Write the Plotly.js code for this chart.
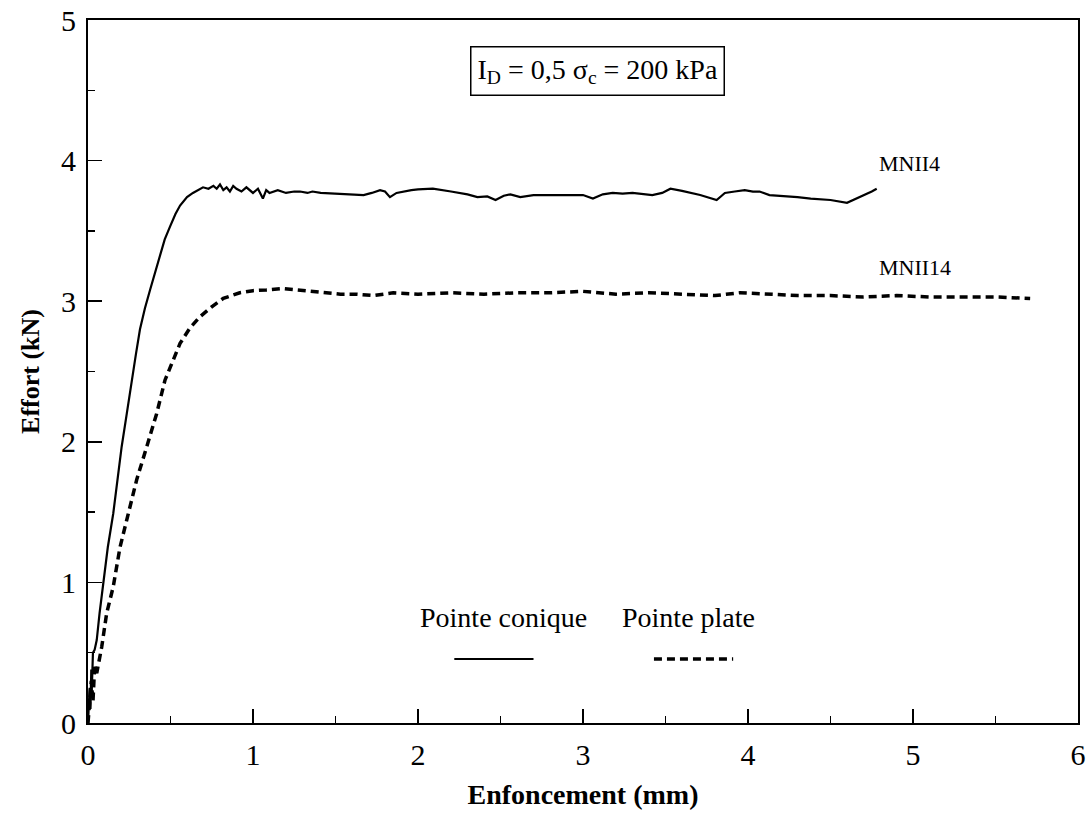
<!DOCTYPE html>
<html>
<head>
<meta charset="utf-8">
<script src="https://cdn.plot.ly/plotly-3.0.1.min.js"></script>
<style>html,body{margin:0;padding:0;background:#fff;}#chart{width:1091px;height:820px;}</style>
</head>
<body>
<div id="chart"></div>
<script>
// MNII4 — Pointe conique (solid)
const coniqueX = [0, 0.01, 0.015, 0.02, 0.022, 0.025, 0.03, 0.04, 0.053, 0.07, 0.093, 0.12, 0.153, 0.18, 0.204, 0.235, 0.265, 0.29, 0.315, 0.345, 0.376, 0.405, 0.436, 0.465, 0.497, 0.53, 0.558, 0.6, 0.636, 0.67, 0.697, 0.73, 0.76, 0.78, 0.8, 0.82, 0.84, 0.86, 0.88, 0.9, 0.93, 0.96, 1.0, 1.03, 1.06, 1.08, 1.1, 1.15, 1.2, 1.25, 1.285, 1.33, 1.36, 1.41, 1.5, 1.6, 1.67, 1.72, 1.77, 1.8, 1.83, 1.87, 1.91, 1.96, 2.0, 2.09, 2.2, 2.3, 2.36, 2.42, 2.47, 2.52, 2.56, 2.62, 2.7, 2.8, 2.9, 3.0, 3.06, 3.12, 3.18, 3.24, 3.30, 3.36, 3.42, 3.48, 3.53, 3.6, 3.71, 3.81, 3.86, 3.92, 3.98, 4.03, 4.07, 4.13, 4.2, 4.3, 4.38, 4.5, 4.6, 4.64, 4.68, 4.72, 4.75, 4.78];
const coniqueY = [0, 0.25, 0.1, 0.38, 0.2, 0.42, 0.5, 0.52, 0.59, 0.78, 0.995, 1.25, 1.49, 1.73, 1.965, 2.2, 2.44, 2.62, 2.8, 2.95, 3.08, 3.2, 3.32, 3.44, 3.53, 3.62, 3.68, 3.74, 3.77, 3.79, 3.81, 3.80, 3.82, 3.80, 3.83, 3.79, 3.81, 3.78, 3.82, 3.80, 3.78, 3.81, 3.77, 3.80, 3.73, 3.79, 3.77, 3.79, 3.77, 3.78, 3.78, 3.77, 3.78, 3.77, 3.765, 3.76, 3.755, 3.77, 3.79, 3.78, 3.74, 3.77, 3.78, 3.79, 3.795, 3.80, 3.78, 3.76, 3.74, 3.745, 3.72, 3.75, 3.76, 3.74, 3.755, 3.755, 3.755, 3.755, 3.73, 3.76, 3.77, 3.765, 3.77, 3.76, 3.755, 3.77, 3.80, 3.785, 3.755, 3.72, 3.77, 3.78, 3.79, 3.78, 3.78, 3.755, 3.75, 3.74, 3.73, 3.72, 3.70, 3.72, 3.74, 3.76, 3.78, 3.80];

// MNII14 — Pointe plate (dashed)
const plateX = [0, 0.02, 0.03, 0.04, 0.053, 0.083, 0.113, 0.153, 0.194, 0.245, 0.295, 0.356, 0.416, 0.467, 0.51, 0.558, 0.618, 0.679, 0.75, 0.82, 0.92, 1.0, 1.08, 1.18, 1.27, 1.36, 1.45, 1.53, 1.63, 1.73, 1.85, 2.0, 2.2, 2.4, 2.6, 2.8, 3.0, 3.2, 3.4, 3.6, 3.8, 3.95, 4.1, 4.3, 4.5, 4.7, 4.9, 5.1, 5.3, 5.5, 5.71];
const plateY = [0, 0.3, 0.15, 0.4, 0.355, 0.54, 0.78, 0.97, 1.25, 1.49, 1.73, 1.965, 2.20, 2.44, 2.57, 2.70, 2.81, 2.89, 2.96, 3.02, 3.06, 3.075, 3.08, 3.09, 3.08, 3.07, 3.06, 3.05, 3.05, 3.04, 3.06, 3.05, 3.06, 3.05, 3.06, 3.06, 3.07, 3.05, 3.06, 3.05, 3.04, 3.06, 3.05, 3.04, 3.04, 3.03, 3.04, 3.03, 3.03, 3.03, 3.02];

const xTicks = [0, 1, 2, 3, 4, 5, 6];
const yTicks = [0, 1, 2, 3, 4, 5];
const curveLabels = ["MNII4", "MNII14"];
const legendLabels = ["Pointe conique", "Pointe plate"];
const boxText = "I<sub>D</sub> = 0,5 σ<sub>c</sub> = 200 kPa";

const F = "Liberation Serif, Times New Roman, serif";

const traces = [
  {x: coniqueX, y: coniqueY, mode: "lines", name: legendLabels[0],
   line: {color: "#000", width: 2.2}, showlegend: false},
  {x: plateX, y: plateY, mode: "lines", name: legendLabels[1],
   line: {color: "#000", width: 3.5, dash: "8px,5px"}, showlegend: false}
];

const axisCommon = {
  showgrid: false, zeroline: false, showline: true, mirror: true,
  linecolor: "#000", linewidth: 2, ticks: "inside", tickcolor: "#000",
  tickwidth: 1.5, ticklen: 14, tickfont: {family: F, size: 30, color: "#000"},
  minor: {ticks: "inside", ticklen: 7, tickcolor: "#000", tickwidth: 1.2, dtick: 0.5}
};

const layout = {
  width: 1091, height: 820,
  margin: {l: 88, r: 13, t: 20, b: 97},
  paper_bgcolor: "#fff", plot_bgcolor: "#fff",
  font: {family: F, color: "#000"},
  xaxis: Object.assign({}, axisCommon, {
    range: [0, 6], tickvals: xTicks, ticktext: xTicks.map(String),
    ticklabelstandoff: 4,
    title: {text: "<b>Enfoncement (mm)</b>", font: {family: F, size: 28}, standoff: 14}
  }),
  yaxis: Object.assign({}, axisCommon, {
    range: [0, 5], tickvals: yTicks, ticktext: yTicks.map(String),
    ticklabelstandoff: 4,
    title: {text: "<b>Effort (kN)</b>", font: {family: F, size: 26}, standoff: 14}
  }),
  annotations: [
    {x: 3.09, y: 4.64, xref: "x", yref: "y", text: boxText, showarrow: false,
     font: {family: F, size: 28}, bordercolor: "#000", borderwidth: 1.5, borderpad: 6, bgcolor: "#fff"},
    {x: 4.78, y: 3.98, xref: "x", yref: "y", xanchor: "left", text: curveLabels[0],
     showarrow: false, font: {family: F, size: 22}},
    {x: 4.78, y: 3.24, xref: "x", yref: "y", xanchor: "left", text: curveLabels[1],
     showarrow: false, font: {family: F, size: 22}},
    {x: 2.52, y: 0.75, xref: "x", yref: "y", text: legendLabels[0],
     showarrow: false, font: {family: F, size: 28}},
    {x: 3.64, y: 0.75, xref: "x", yref: "y", text: legendLabels[1],
     showarrow: false, font: {family: F, size: 28}}
  ],
  shapes: [
    {type: "line", xref: "x", yref: "y", x0: 2.22, x1: 2.70, y0: 0.455, y1: 0.455,
     line: {color: "#000", width: 2}},
    {type: "line", xref: "x", yref: "y", x0: 3.43, x1: 3.91, y0: 0.455, y1: 0.455,
     line: {color: "#000", width: 3.5, dash: "8px,5px"}}
  ]
};

Plotly.newPlot("chart", traces, layout, {staticPlot: true, displayModeBar: false});
</script>
</body>
</html>
